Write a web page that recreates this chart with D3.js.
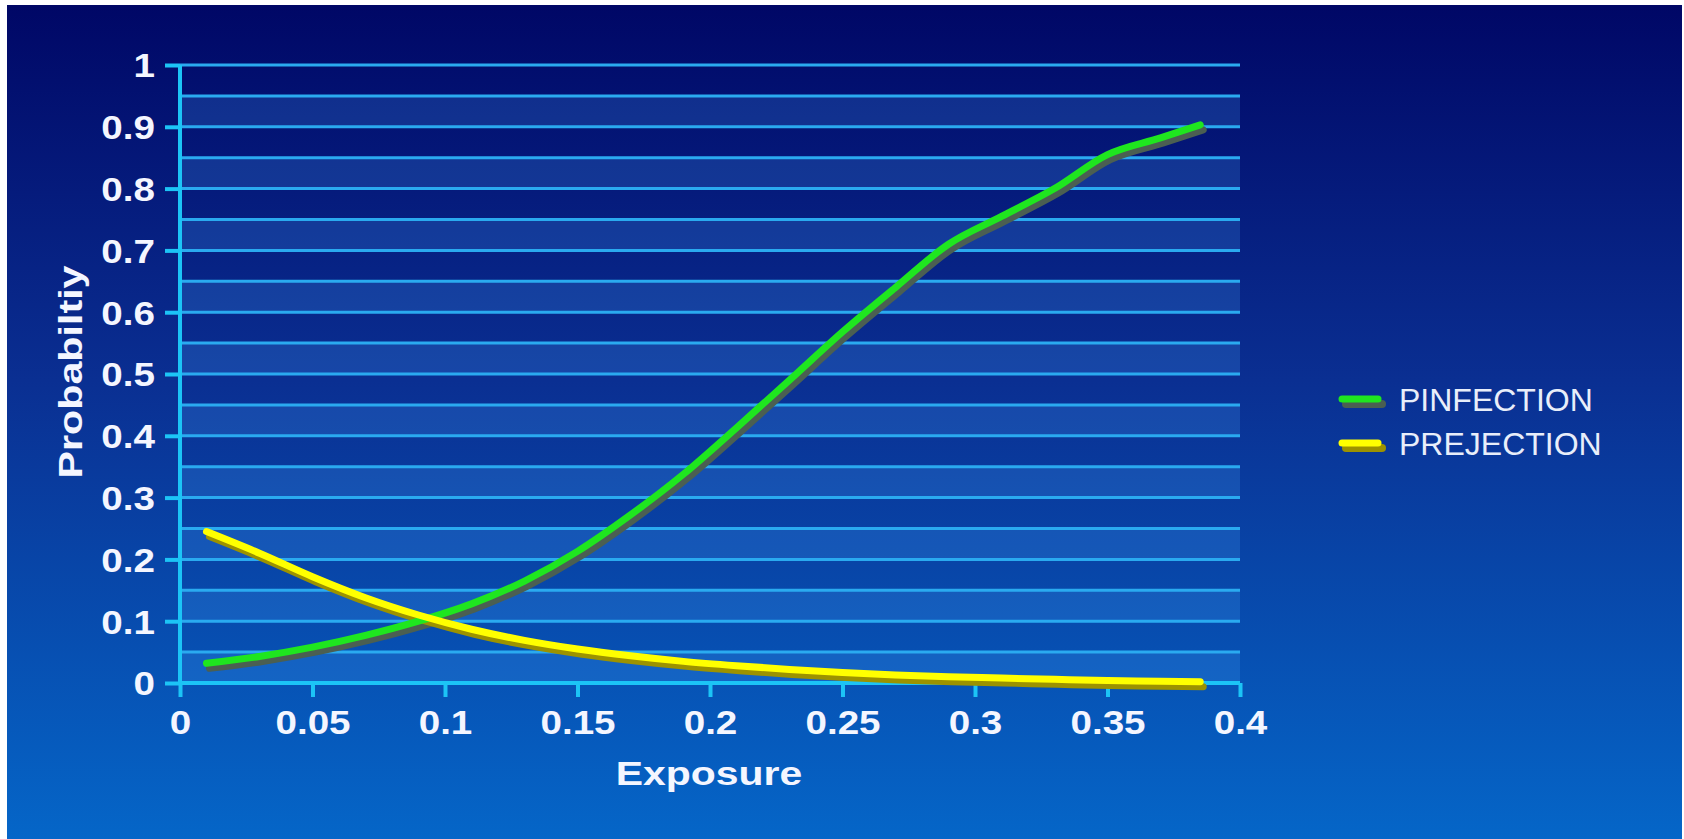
<!DOCTYPE html>
<html>
<head>
<meta charset="utf-8">
<script src="https://cdn.jsdelivr.net/npm/d3@7"></script>
<style>
  html, body { margin: 0; padding: 0; background: #fff; }
  svg { display: block; }
  text { font-family: "Liberation Sans", Arial, sans-serif; }
</style>
</head>
<body>
<svg id="chart" width="1684" height="839"></svg>
<script>
'use strict';

// exposure values where the two curves were read
const exposure = [0.01, 0.03, 0.05, 0.07, 0.09, 0.11, 0.13, 0.15, 0.17, 0.19,
                  0.21, 0.23, 0.25, 0.27, 0.29, 0.31, 0.33, 0.35, 0.37, 0.385];
const pInfection = [0.032, 0.043, 0.058, 0.077, 0.100, 0.128, 0.165, 0.213, 0.272, 0.338,
                    0.413, 0.49, 0.568, 0.64, 0.71, 0.755, 0.80, 0.855, 0.882, 0.903];
const pRejection = [0.245, 0.21, 0.172, 0.138, 0.11, 0.087, 0.069, 0.055, 0.044, 0.035,
                    0.028, 0.022, 0.017, 0.013, 0.010, 0.008, 0.006, 0.004, 0.003, 0.002];

const xTicks = [0, 0.05, 0.1, 0.15, 0.2, 0.25, 0.3, 0.35, 0.4];
const yTicks = [0, 0.1, 0.2, 0.3, 0.4, 0.5, 0.6, 0.7, 0.8, 0.9, 1];
const yGrid = [0.05, 0.1, 0.15, 0.2, 0.25, 0.3, 0.35, 0.4, 0.45, 0.5,
               0.55, 0.6, 0.65, 0.7, 0.75, 0.8, 0.85, 0.9, 0.95, 1];

const seriesNames = ["PINFECTION", "PREJECTION"];
const seriesColor = {PINFECTION: "#1fe61f", PREJECTION: "#ffff00"};
const shadowColor = {PINFECTION: "#4b5f52", PREJECTION: "#9c9200"};

const svg = d3.select("#chart");

// background panel with vertical gradient
const defs = svg.append("defs");
const grad = defs.append("linearGradient").attr("id", "bg")
  .attr("x1", 0).attr("y1", 0).attr("x2", 0).attr("y2", 1);
grad.append("stop").attr("offset", "0%").attr("stop-color", "#000766");
grad.append("stop").attr("offset", "45%").attr("stop-color", "#0a2f92");
grad.append("stop").attr("offset", "100%").attr("stop-color", "#0566c8");

svg.append("rect").attr("x", 7).attr("y", 5).attr("width", 1675).attr("height", 834)
  .attr("fill", "url(#bg)");

const x = d3.scaleLinear().domain([0, 0.4]).range([180, 1240]);
const y = d3.scaleLinear().domain([0, 1]).range([683, 65]);

// lighter bands (0-0.05, 0.1-0.15, ...)
const bands = yTicks.slice(0, -1);
svg.append("g").selectAll("rect").data(bands).enter().append("rect")
  .attr("x", x(0))
  .attr("width", x(0.4) - x(0))
  .attr("y", d => y(d + 0.05))
  .attr("height", d => y(d) - y(d + 0.05))
  .attr("fill", "#4aa8ff")
  .attr("opacity", 0.2);

// grid lines every 0.05
svg.append("g").selectAll("line").data(yGrid).enter().append("line")
  .attr("x1", x(0)).attr("x2", x(0.4))
  .attr("y1", d => y(d)).attr("y2", d => y(d))
  .attr("stroke", "#2aaaf0").attr("stroke-width", 3);

// axes
const tickFmt = d3.format("~g");
const yAxis = svg.append("g").attr("transform", `translate(${x(0)},0)`)
  .call(d3.axisLeft(y).tickValues(yTicks).tickSize(15).tickFormat(tickFmt));
const xAxis = svg.append("g").attr("transform", `translate(0,${y(0)})`)
  .call(d3.axisBottom(x).tickValues(xTicks).tickSize(14).tickFormat(tickFmt));

[yAxis, xAxis].forEach(a => {
  a.select(".domain").attr("stroke", "#1cc4f6").attr("stroke-width", 4);
  a.selectAll(".tick line").attr("stroke", "#1cc4f6").attr("stroke-width", 4);
  a.selectAll(".tick text")
    .attr("fill", "#f4f6ff")
    .attr("font-size", 33)
    .attr("font-weight", "bold");
});
yAxis.select(".domain").attr("d", `M0,${y(0)}V${y(1)}`);
xAxis.select(".domain").attr("d", `M${x(0)},0H${x(0.4)}`);

yAxis.selectAll(".tick text")
  .attr("x", null).attr("dy", "0.36em")
  .attr("text-anchor", "end")
  .attr("transform", "translate(-25,0) scale(1.17,1)");
xAxis.selectAll(".tick text")
  .attr("y", null).attr("dy", null)
  .attr("text-anchor", "middle")
  .attr("transform", "translate(0,51) scale(1.17,1)");

// axis titles
svg.append("text")
  .attr("transform", "translate(709,785) scale(1.24,1)")
  .attr("text-anchor", "middle")
  .attr("fill", "#f4f6ff").attr("font-size", 33).attr("font-weight", "bold")
  .text("Exposure");
svg.append("text")
  .attr("transform", "translate(82,372) rotate(-90) scale(1.25,1)")
  .attr("text-anchor", "middle")
  .attr("fill", "#f4f6ff").attr("font-size", 33).attr("font-weight", "bold")
  .text("Probabiltiy");

// curves with drop shadow
const series = [
  {name: "PINFECTION", values: pInfection},
  {name: "PREJECTION", values: pRejection}
];
const line = d3.line()
  .x((d, i) => x(exposure[i]))
  .y(d => y(d))
  .curve(d3.curveMonotoneX);

series.forEach(s => {
  svg.append("path").datum(s.values)
    .attr("d", line)
    .attr("transform", "translate(3,5)")
    .attr("fill", "none")
    .attr("stroke", shadowColor[s.name])
    .attr("stroke-width", 7)
    .attr("stroke-linecap", "round");
});
series.forEach(s => {
  svg.append("path").datum(s.values)
    .attr("d", line)
    .attr("fill", "none")
    .attr("stroke", seriesColor[s.name])
    .attr("stroke-width", 7)
    .attr("stroke-linecap", "round")
    .attr("stroke-linejoin", "round");
});

// legend
const legend = svg.append("g").selectAll("g").data(seriesNames).enter().append("g")
  .attr("transform", (d, i) => `translate(1342,${399 + i * 44})`);
legend.append("line")
  .attr("x1", 4).attr("x2", 40).attr("y1", 5).attr("y2", 5)
  .attr("stroke", d => shadowColor[d]).attr("stroke-width", 8).attr("stroke-linecap", "round");
legend.append("line")
  .attr("x1", 0).attr("x2", 36).attr("y1", 0).attr("y2", 0)
  .attr("stroke", d => seriesColor[d]).attr("stroke-width", 7).attr("stroke-linecap", "round");
legend.append("text")
  .attr("x", 57).attr("dy", "0.36em")
  .attr("fill", "#e8eefa").attr("font-size", 32)
  .text(d => d);
</script>
</body>
</html>
